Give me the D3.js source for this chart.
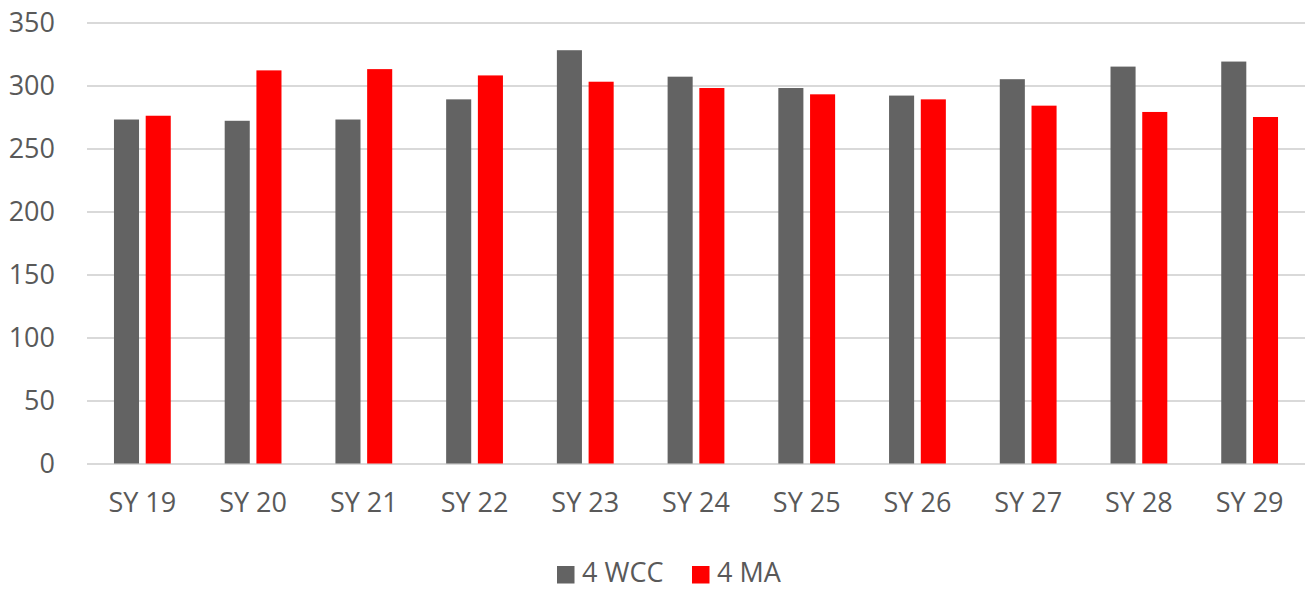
<!DOCTYPE html>
<html>
<head>
<meta charset="utf-8">
<script src="https://cdn.jsdelivr.net/npm/d3@7/dist/d3.min.js"></script>
<style>
  body { margin: 0; background: #fff; }
  svg text { font-family: "Open Sans", sans-serif; fill: #595959; }
</style>
</head>
<body>
<div id="chart"></div>
<script>
"use strict";

const categories = ["SY 19", "SY 20", "SY 21", "SY 22", "SY 23", "SY 24", "SY 25", "SY 26", "SY 27", "SY 28", "SY 29"];
const seriesNames = ["4 WCC", "4 MA"];
const wccValues = [273, 272, 273, 289, 328, 307, 298, 292, 305, 315, 319];
const maValues = [276, 312, 313, 308, 303, 298, 293, 289, 284, 279, 275];
const yTicks = [0, 50, 100, 150, 200, 250, 300, 350];
const colors = ["#636363", "#ff0000"];

const width = 1310, height = 592;
const margin = { top: 22.5, right: 5, bottom: 128.5, left: 87 };

const svg = d3.select("#chart").append("svg")
  .attr("width", width)
  .attr("height", height);

const x0 = d3.scaleBand()
  .domain(categories)
  .range([margin.left, width - margin.right]);

const x1 = d3.scaleBand()
  .domain(seriesNames)
  .range([0, x0.bandwidth()])
  .paddingInner(0.21)
  .paddingOuter(0.85);

const y = d3.scaleLinear()
  .domain([0, 350])
  .range([height - margin.bottom, margin.top]);

// Gridlines + y labels
const yAxis = svg.append("g")
  .attr("transform", "translate(" + margin.left + ",0)")
  .call(d3.axisLeft(y)
    .tickValues(yTicks)
    .tickSize(-(width - margin.left - margin.right))
    .tickPadding(32));
yAxis.select(".domain").remove();
yAxis.selectAll(".tick line")
  .attr("stroke", "#d9d9d9")
  .attr("stroke-width", 2);
yAxis.selectAll(".tick text")
  .attr("font-size", "27px")
  .style("font-family", "'Open Sans', sans-serif")
  .attr("fill", "#595959");

// Bars
const rows = categories.map(function(c, i) {
  return { cat: c, values: [wccValues[i], maValues[i]] };
});

const groups = svg.append("g").selectAll("g")
  .data(rows)
  .join("g")
  .attr("transform", d => "translate(" + x0(d.cat) + ",0)");

groups.selectAll("rect")
  .data(d => d.values.map((v, j) => ({ name: seriesNames[j], value: v, j: j })))
  .join("rect")
  .attr("x", d => x1(d.name))
  .attr("y", d => y(d.value))
  .attr("width", x1.bandwidth())
  .attr("height", d => y(0) - y(d.value))
  .attr("fill", d => colors[d.j]);

// X labels
svg.append("g").selectAll("text")
  .data(categories)
  .join("text")
  .attr("x", d => x0(d) + x0.bandwidth() / 2)
  .attr("y", 505)
  .attr("text-anchor", "middle")
  .attr("dominant-baseline", "middle")
  .attr("font-size", "27px")
  .text(d => d);

// Legend
const legendX = [557, 692];
const legend = svg.append("g");
seriesNames.forEach(function(name, i) {
  legend.append("rect")
    .attr("x", legendX[i])
    .attr("y", 566)
    .attr("width", 17.5)
    .attr("height", 17.5)
    .attr("fill", colors[i]);
  legend.append("text")
    .attr("x", legendX[i] + 25)
    .attr("y", 575)
    .attr("dominant-baseline", "middle")
    .attr("font-size", "27px")
    .text(name);
});
</script>
</body>
</html>
